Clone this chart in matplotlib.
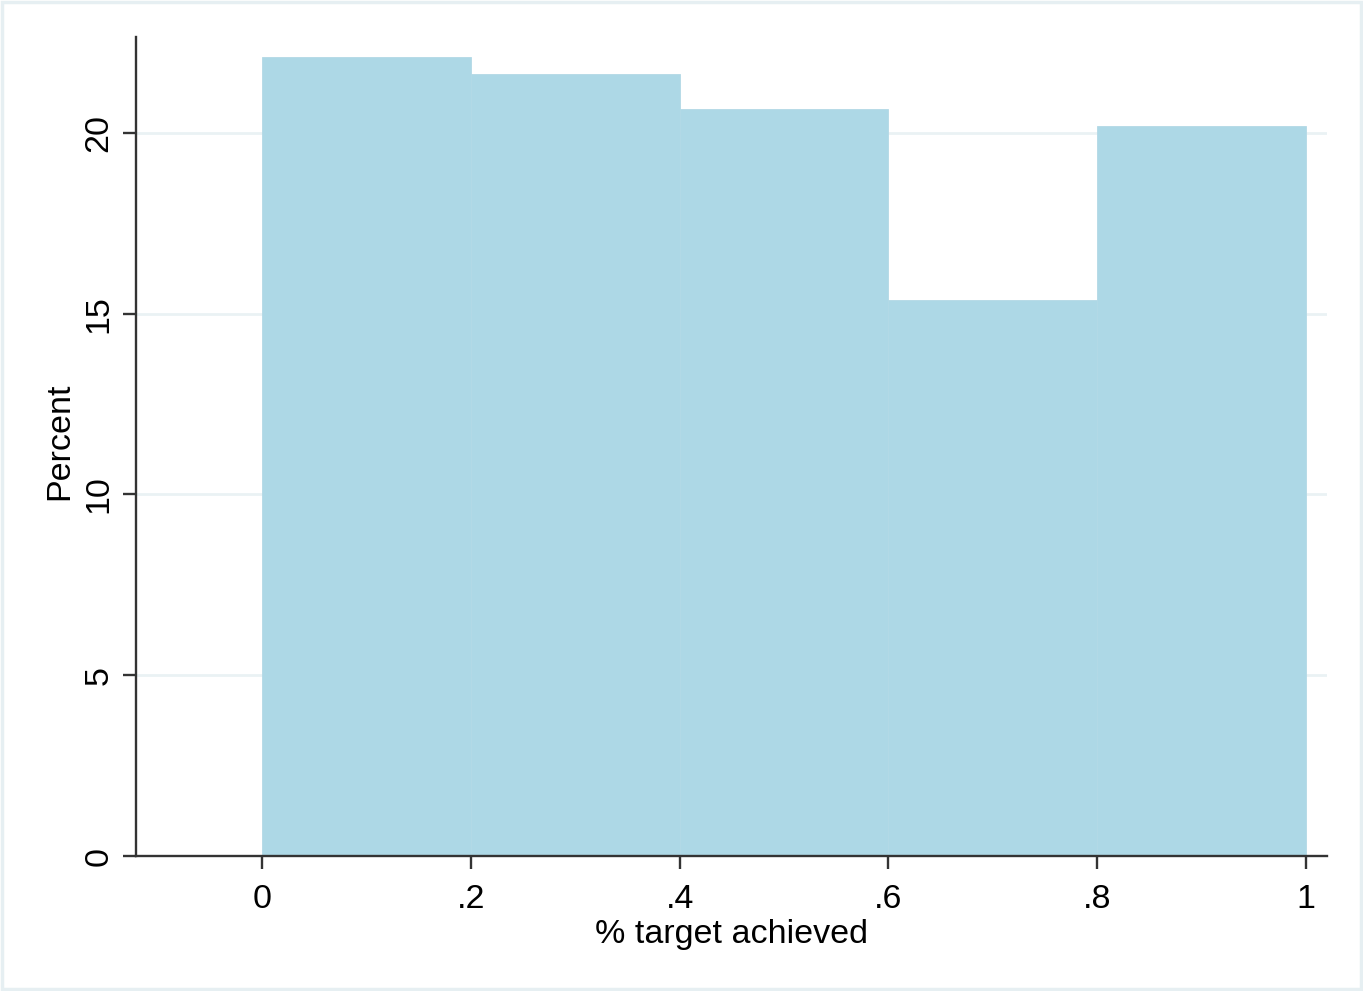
import matplotlib
matplotlib.use("Agg")
import matplotlib.pyplot as plt
from matplotlib.patches import Rectangle

bin_edges = [0.0, 0.2, 0.4, 0.6, 0.8, 1.0]
percents = [22.10, 21.63, 20.66, 15.38, 20.19]
x_ticks = [0, 0.2, 0.4, 0.6, 0.8, 1.0]
x_ticklabels = ["0", ".2", ".4", ".6", ".8", "1"]
y_ticks = [0, 5, 10, 15, 20]
y_ticklabels = ["0", "5", "10", "15", "20"]
x_label = "% target achieved"
y_label = "Percent"

plt.rcParams['font.family'] = ['Liberation Sans', 'DejaVu Sans']

W, H = 1363, 991
fig = plt.figure(figsize=(W / 100, H / 100), dpi=100)
fig.patch.set_facecolor("white")
fig.patches.append(Rectangle((0.0015, 0.002), 0.997, 0.996, transform=fig.transFigure,
                             fill=False, edgecolor="#e6eff2", linewidth=2.5))

left, right, top, bottom = 136, 1327, 37, 856
ax = fig.add_axes([left / W, 1 - bottom / H, (right - left) / W, (bottom - top) / H])

lefts = bin_edges[:-1]
widths = [b - a for a, b in zip(bin_edges[:-1], bin_edges[1:])]
ax.bar(lefts, percents, width=widths, align="edge", color="#add8e6",
       edgecolor="#b3d9e6", linewidth=0.6, zorder=2)

ax.set_xlim(-0.1207, 1.0201)
ax.set_ylim(0, 22.65)

for y in y_ticks[1:]:
    ax.axhline(y, color="#eaf2f4", linewidth=2, zorder=1)

ax.set_xticks(x_ticks)
ax.set_xticklabels(x_ticklabels)
ax.set_yticks(y_ticks)
ax.set_yticklabels(y_ticklabels, rotation=90, va="center")

for s in ["top", "right"]:
    ax.spines[s].set_visible(False)
for s in ["left", "bottom"]:
    ax.spines[s].set_color("#333333")
    ax.spines[s].set_linewidth(1.7)

fs = 24.5
ax.tick_params(axis="both", direction="out", length=9.4, width=1.7, color="#333333",
               labelsize=fs, labelcolor="black")
ax.tick_params(axis="x", pad=11)
ax.tick_params(axis="y", pad=6)

ax.set_xlabel(x_label, fontsize=fs, labelpad=3)
ax.set_ylabel(y_label, fontsize=fs, labelpad=6)
ax.yaxis.set_label_coords(-0.051, 0.507)

fig.savefig("out.png", dpi=100, facecolor="white")
